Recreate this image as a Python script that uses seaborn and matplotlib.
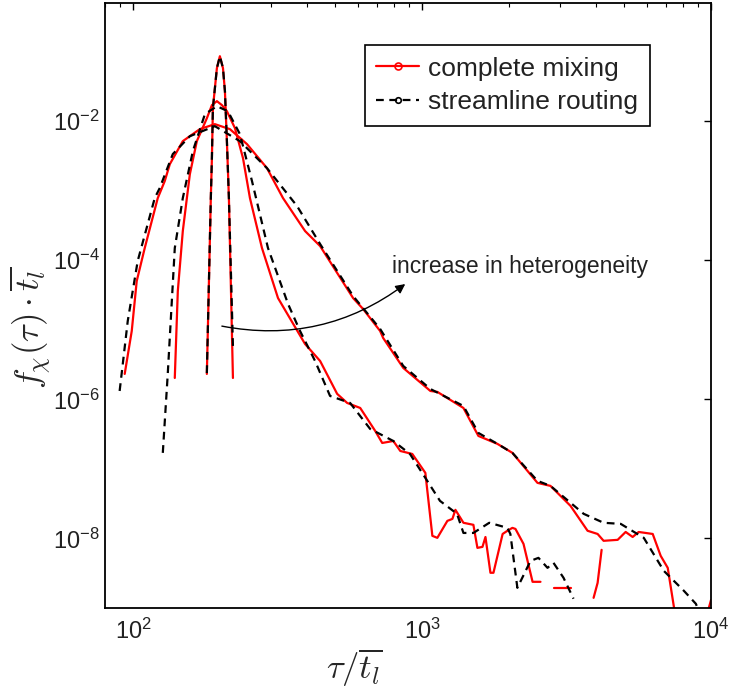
import numpy as np
import pandas as pd
import matplotlib
matplotlib.use('Agg')
import matplotlib.pyplot as plt
from matplotlib.lines import Line2D
from matplotlib.ticker import FixedLocator, NullLocator, LogLocator, NullFormatter
import seaborn as sns

nan = np.nan

# %% data (tau / t_l  and  f_chi * t_l)
narrow_mix_tau = [180.1, 185.9, 187.5, 189.0, 195.1, 199.8, 204.8, 208.0, 211.3, 214.7, 221.7]
narrow_mix_f = [2.32e-6, 7.83e-4, 2.94e-3, 1.54e-2, 5.78e-2, 8.59e-2, 5.78e-2, 2.70e-2, 5.16e-3, 7.83e-4, 2.03e-6]

narrow_str_tau = [180.1, 185.9, 187.5, 189.0, 195.1, 199.8, 204.8, 208.0, 211.3, 214.7, 221.7]
narrow_str_f = [2.39e-6, 7.83e-4, 2.94e-3, 1.54e-2, 5.78e-2, 8.59e-2, 5.78e-2, 2.70e-2, 5.16e-3, 7.83e-4, 5.85e-6]

medium_mix_tau = [139.5, 142.9, 148.7, 153.6, 157.3, 166.3, 180.1, 187.5, 195.1, 203.1,
                  211.3, 225.3, 240.2, 253.9, 279.4, 317.5, 393.9, 444.1, 508.6, 550.8,
                  611.2, 688.9, 728.4, 795.5, 841.3, 925.6, 1027, 1086, 1130, 1224,
                  1274, 1305, 1391, 1506, 1555, 1619, 1658, 1725, 1767, 1901,
                  1975, 2055, 2106, 2245, 2413, 2570, nan, 2873, 3265, nan,
                  3924, 4052, 4183]
medium_mix_f = [2.03e-6, 3.61e-5, 2.63e-4, 7.83e-4, 1.73e-3, 5.16e-3, 1.10e-2, 1.70e-2, 1.94e-2, 1.70e-2,
                1.39e-2, 7.93e-3, 2.94e-3, 7.83e-4, 1.50e-4, 2.86e-5, 6.25e-6, 3.56e-6, 1.20e-6, 8.88e-7,
                7.52e-7, 3.51e-7, 2.36e-7, 2.52e-7, 1.81e-7, 1.64e-7, 8.77e-8, 1.09e-8, 1.02e-8, 1.79e-8,
                1.91e-8, 2.58e-8, 1.68e-8, 1.57e-8, 7.32e-9, 7.57e-9, 1.05e-8, 3.21e-9, 3.21e-9, 1.16e-8,
                1.29e-8, 1.42e-8, 1.37e-8, 8.36e-9, 2.38e-9, 2.38e-9, nan, 1.95e-9, 1.95e-9, nan,
                1.40e-9, 2.30e-9, 6.86e-9]

medium_str_tau = [126.8, 131.9, 139.5, 148.7, 161.1, 177.3, 195.1, 213.0, 234.4, 258.0,
                  293.1, 344.0, 378.4, 426.6, 480.6, 563.9, 661.4, 795.5, 908.6, 1027,
                  1154, 1322, 1391, 1506, 1709, 1975, 2022, 2138, 2374, 2529,
                  2718, 2851, 3088, 3344]
medium_str_f = [1.70e-7, 2.32e-6, 1.50e-4, 7.83e-4, 3.71e-3, 1.26e-2, 1.64e-2, 1.39e-2, 6.50e-3, 1.38e-3,
                1.50e-4, 2.35e-5, 9.62e-6, 3.56e-6, 1.12e-6, 8.88e-7, 3.76e-7, 2.52e-7, 1.64e-7, 7.43e-8,
                3.47e-8, 2.26e-8, 1.20e-8, 1.20e-8, 1.68e-8, 1.42e-8, 1.16e-8, 1.95e-9, 4.76e-9, 5.26e-9,
                3.78e-9, 4.46e-9, 2.72e-9, 1.36e-9]

wide_mix_tau = [93.6, 99.0, 103.0, 109.8, 121.8, 128.8, 134.1, 148.7, 170.3, 191.9,
                216.4, 247.9, 290.8, 330.4, 393.9, 444.1, 577.5, 625.5, 716.2, 734.0,
                861.3, 1069, 1130, 1391, 1567, 1824, 2055, 2509, 2783, 3265,
                3740, 4052, 4250, 4753, 5066, 5357, 5620, 6285, 6698, 7084,
                7430, 7610, nan, 9600, 10000]
wide_mix_f = [2.32e-6, 9.62e-6, 5.02e-5, 1.50e-4, 7.83e-4, 1.38e-3, 2.41e-3, 5.16e-3, 7.68e-3, 9.06e-3,
              7.68e-3, 4.68e-3, 2.11e-3, 7.83e-4, 2.63e-4, 1.60e-4, 2.86e-5, 1.99e-5, 9.62e-6, 7.62e-6,
              2.83e-6, 1.32e-6, 1.28e-6, 7.52e-7, 2.98e-7, 2.29e-7, 1.70e-7, 6.30e-8, 5.70e-8, 2.94e-8,
              1.29e-8, 1.16e-8, 9.25e-9, 9.55e-9, 1.24e-8, 1.05e-8, 1.24e-8, 1.16e-8, 5.62e-9, 3.78e-9,
              1.08e-9, 5.55e-10, nan, 7.0e-10, 1.3e-9]

wide_str_tau = [89.9, 95.9, 103.8, 118.9, 123.7, 137.3, 157.3, 191.9, 234.4, 290.8,
                369.6, 444.1, 577.5, 716.2, 861.3, 1069, 1391, 1567, 1824, 2055,
                2509, 2783, 3626, 4250, 4871, 5854, 6867, 8054, 8863, 9226]
wide_str_f = [1.32e-6, 1.34e-5, 9.74e-5, 7.83e-4, 1.09e-3, 3.36e-3, 6.08e-3, 8.48e-3, 5.16e-3, 2.11e-3,
              6.01e-4, 1.71e-4, 3.06e-5, 1.03e-5, 3.02e-6, 1.41e-6, 8.03e-7, 3.29e-7, 2.29e-7, 1.70e-7,
              6.73e-8, 5.70e-8, 2.26e-8, 1.68e-8, 1.62e-8, 1.02e-8, 3.42e-9, 1.77e-9, 1.15e-9, 7.72e-10]

models = ['complete mixing', 'streamline routing']
y_ticks = [1e-8, 1e-6, 1e-4, 1e-2]
y_ticklabels = [r'$10^{-8}$', r'$10^{-6}$', r'$10^{-4}$', r'$10^{-2}$']
x_ticks = [1e2, 1e3, 1e4]
x_ticklabels = [r'$10^{2}$', r'$10^{3}$', r'$10^{4}$']

# %% long table, gaps (empty bins) split a curve into separate units
curves = [
    ('narrow', models[0], narrow_mix_tau, narrow_mix_f),
    ('narrow', models[1], narrow_str_tau, narrow_str_f),
    ('medium', models[0], medium_mix_tau, medium_mix_f),
    ('medium', models[1], medium_str_tau, medium_str_f),
    ('wide', models[0], wide_mix_tau, wide_mix_f),
    ('wide', models[1], wide_str_tau, wide_str_f),
]
rows = []
unit = 0
for case, model, tau, f in curves:
    unit += 1
    for t, v in zip(tau, f):
        if np.isnan(t):
            unit += 1
            continue
        rows.append(dict(case=case, model=model, tau=t, f=v, unit=unit))
df = pd.DataFrame(rows)

# %% plot
sns.set_theme(style='white')
plt.rcParams['font.family'] = ['Liberation Sans', 'DejaVu Sans']
plt.rcParams['mathtext.fontset'] = 'custom'
plt.rcParams['mathtext.rm'] = 'Liberation Sans'
plt.rcParams['mathtext.it'] = 'Liberation Sans:italic'
plt.rcParams['mathtext.bf'] = 'Liberation Sans:bold'

fig = plt.figure(figsize=(7.3, 6.88), dpi=100)
ax = fig.add_axes([105 / 730, 1 - 608 / 688, 606 / 730, 605 / 688])
ax.set_xscale('log')
ax.set_yscale('log')

dash = (0, (3.5, 2.5))
sns.lineplot(data=df[df.model == models[0]], x='tau', y='f', units='unit', estimator=None,
             sort=False, color='red', lw=1.6, ax=ax, legend=False)
sns.lineplot(data=df[df.model == models[1]], x='tau', y='f', units='unit', estimator=None,
             sort=False, color='black', lw=1.6, linestyle=dash, ax=ax, legend=False)

ax.set_xlim(80, 1e4)
ax.set_ylim(1e-9, 0.5)

ax.xaxis.set_major_locator(FixedLocator(x_ticks))
ax.set_xticklabels(x_ticklabels)
ax.xaxis.set_minor_locator(LogLocator(base=10, subs=np.arange(2, 10), numticks=20))
ax.xaxis.set_minor_formatter(NullFormatter())
ax.yaxis.set_major_locator(FixedLocator(y_ticks))
ax.set_yticklabels(y_ticklabels)
ax.yaxis.set_minor_locator(NullLocator())

ax.tick_params(which='both', direction='in', top=True, right=True, colors='black',
               labelcolor='#222222', labelsize=17)
ax.tick_params(which='major', length=5, width=1)
ax.tick_params(which='minor', length=3, width=0.8)
ax.tick_params(axis='x', pad=8)
ax.tick_params(axis='y', pad=4)
for s in ax.spines.values():
    s.set_color('black')
    s.set_linewidth(1.3)

ax.set_xlabel(r'$\tau/\overline{t_l}$', fontsize=25, math_fontfamily='cm')
ax.set_ylabel(r'$f_\chi(\tau)\cdot\overline{t_l}$', fontsize=25, math_fontfamily='cm')
ax.xaxis.set_label_coords(0.411, -0.064)
ax.yaxis.set_label_coords(-0.086, 0.463)

ax.annotate('', xy=(875, 4.55e-5), xytext=(203, 1.13e-5),
            arrowprops=dict(arrowstyle='-|>', color='black', lw=1.0, mutation_scale=14,
                            connectionstyle='arc3,rad=0.22', shrinkA=0, shrinkB=0))
ax.text(789, 8.0e-5, 'increase in heterogeneity', fontsize=16.5, color='#222222',
        ha='left', va='center')

handles = [
    Line2D([], [], color='red', lw=1.6, marker='o', ms=5, mfc='none', mew=1.2),
    Line2D([], [], color='black', lw=1.6, linestyle=dash, marker='o', ms=4, mfc='none', mew=1.2),
]
leg = ax.legend(handles, models, loc='upper right', bbox_to_anchor=(0.899, 0.931),
                fontsize=19, frameon=True, fancybox=False, edgecolor='black', framealpha=1,
                handlelength=1.6, labelspacing=0.35, borderpad=0.45, handletextpad=0.35,
                borderaxespad=0)
leg.get_frame().set_linewidth(1.2)
for t in leg.get_texts():
    t.set_color('#222222')

fig.savefig('out.png', dpi=100)
